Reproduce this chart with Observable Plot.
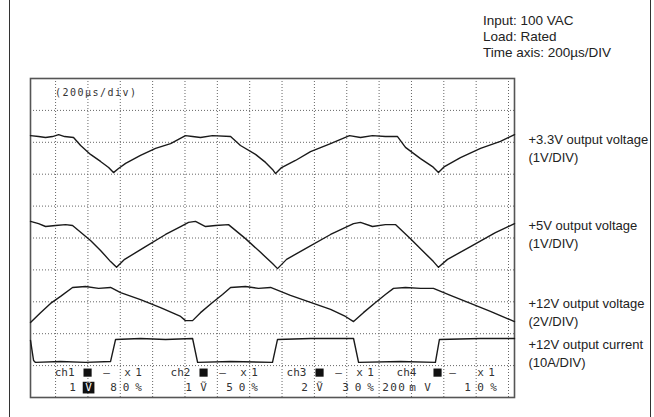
<!DOCTYPE html>
<html><head><meta charset="utf-8">
<script src="https://cdn.jsdelivr.net/npm/d3@7"></script>
<script src="https://cdn.jsdelivr.net/npm/@observablehq/plot@0.6"></script>
<style>
body{margin:0;background:#fff;}
#wrap{position:relative;width:654px;height:417px;overflow:hidden;font-family:"Liberation Sans",Arial,sans-serif;}
#wrap svg{position:absolute;left:0;top:0;}
#border{position:absolute;left:9px;top:-5px;width:640px;height:427px;border-left:1.5px solid #333;border-right:1.5px solid #333;pointer-events:none;}
#info{position:absolute;left:483px;top:13px;font-size:13.5px;line-height:16px;color:#222;}
</style></head><body>
<div id="wrap"><div id="info"></div><div id="border"></div></div>
<script>
// ---- data (time in µs, level in screen divisions) ----
const infoLines = ["Input: 100 VAC", "Load: Rated", "Time axis: 200µs/DIV"];
const traceLabels = ["+3.3V output voltage\n(1V/DIV)", "+5V output voltage\n(1V/DIV)", "+12V output voltage\n(2V/DIV)", "+12V output current\n(10A/DIV)"];
const traceLabelLevels = [7.84, 5.15, 2.70, 1.43];
const timebaseText = "(200µs/div)";
const gridTimes = [0,200,400,600,800,1000,1200,1400,1600,1800,2000,2200,2400,2600,2800];
const gridDivs = [1,2,3,4,5,6,7,8,9];

const v33 = [[-155,8.21],[-105,8.18],[-62,8.15],[-19,8.18],[19,8.24],[56,8.18],[111,8.15],[155,7.90],[216,7.62],[278,7.40],[328,7.21],[358,7.05],[389,7.18],[433,7.34],[525,7.59],[618,7.81],[711,7.96],[803,8.21],[847,8.18],[896,8.15],[970,8.21],[1082,8.18],[1143,7.90],[1236,7.62],[1298,7.37],[1341,7.15],[1360,7.02],[1397,7.21],[1483,7.43],[1576,7.71],[1700,7.96],[1817,8.21],[1885,8.15],[1959,8.21],[2039,8.18],[2114,8.18],[2163,7.84],[2256,7.49],[2330,7.24],[2367,7.05],[2404,7.24],[2503,7.52],[2627,7.81],[2750,8.03],[2837,8.24]];
const v5 = [[-155,5.52],[-105,5.45],[-62,5.36],[0,5.39],[62,5.42],[105,5.39],[216,4.92],[278,4.61],[340,4.26],[377,4.08],[427,4.33],[556,4.73],[680,5.11],[773,5.36],[822,5.49],[865,5.52],[927,5.36],[989,5.39],[1069,5.42],[1174,4.98],[1267,4.55],[1341,4.20],[1372,4.04],[1428,4.33],[1545,4.67],[1700,5.11],[1842,5.45],[1885,5.49],[1959,5.36],[2039,5.42],[2101,5.42],[2194,4.98],[2287,4.51],[2336,4.26],[2367,4.08],[2423,4.33],[2565,4.73],[2719,5.17],[2837,5.45]];
const v12 = [[-155,2.35],[-93,2.66],[-31,2.95],[31,3.17],[105,3.45],[185,3.48],[266,3.42],[340,3.45],[402,3.29],[525,3.07],[649,2.82],[773,2.54],[803,2.41],[847,2.41],[896,2.66],[970,2.98],[1032,3.23],[1082,3.45],[1174,3.48],[1254,3.42],[1329,3.45],[1452,3.20],[1576,2.98],[1700,2.76],[1792,2.54],[1842,2.38],[1903,2.66],[1978,2.98],[2039,3.23],[2089,3.42],[2163,3.45],[2256,3.42],[2336,3.42],[2441,3.20],[2565,2.95],[2688,2.70],[2837,2.38]];
const i12 = [[-155,1.79],[-136,1.16],[-124,1.10],[31,1.13],[185,1.10],[340,1.13],[371,1.82],[525,1.85],[680,1.82],[847,1.85],[878,1.10],[1082,1.13],[1341,1.10],[1372,1.82],[1576,1.85],[1842,1.85],[1873,1.10],[2132,1.13],[2348,1.10],[2373,1.82],[2627,1.85],[2837,1.85]];

const chNames = ["ch1","ch2","ch3","ch4"];
const chVolts = ["1","1","2","200m"];
const chPercent = ["80%","50%","30%","10%"];
const chProbe = ["x1","x1","x1","x1"];
const chStart = [0, 717, 1434, 2114];

// ---- layout ----
const W = 654, H = 417, mL = 30, mR = 140, mT = 78, mB = 20;
const xDomain = [-155, 2837];
const usPerPx = (xDomain[1] - xDomain[0]) / (W - mL - mR);
const row1 = 0.78, row2 = 0.31;
const mono = "DejaVu Sans Mono, monospace";

document.getElementById("info").innerHTML = infoLines.map(s => `<div>${s}</div>`).join("");

// readout glyphs (px offsets within each channel block)
const glyphs = [], squares = [], boxes = [];
function put(ch, off, y, s, fill = "#333") { glyphs.push({x: chStart[ch] + off * usPerPx, y, s, fill}); }
function spread(ch, off, y, str, step) { [...str].forEach((c, k) => put(ch, off + k * step, y, c)); }
for (let i = 0; i < 4; i++) {
  const four = i === 3;
  put(i, 9, row1, chNames[i]);
  squares.push({x: chStart[i] + (four ? 40 : 32) * usPerPx, y: row1});
  put(i, four ? 55 : 51, row1, "–");
  spread(i, four ? 83 : 72, row1, chProbe[i], 11);
  if (!four) {
    put(i, 17, row2, chVolts[i]);
    if (i === 0) { boxes.push({x: chStart[i] + 33 * usPerPx, y: row2}); put(i, 33, row2, "Ṽ", "#fff"); }
    else put(i, 32, row2, "Ṽ");
    spread(i, 58, row2, chPercent[i], 12.5);
  } else {
    spread(i, -12, row2, "200", 8);
    put(i, 15, row2, "m");
    put(i, 30, row2, "V");
    spread(i, 70, row2, chPercent[i], 13);
  }
}
const tbGlyphs = [...timebaseText].map((c, k) => ({x: (2.5 + k * 7.5) * usPerPx, y: 9.56, s: c}));

const traceStyle = {x: d => d[0], y: d => d[1], stroke: "#1a1a1a", strokeWidth: 1.4};
const svg = Plot.plot({
  width: W, height: H, marginLeft: mL, marginRight: mR, marginTop: mT, marginBottom: mB,
  x: {domain: xDomain, axis: null},
  y: {domain: [0, 10], axis: null},
  marks: [
    Plot.ruleX(gridTimes, {stroke: "#666", strokeDasharray: "1,2", strokeWidth: 1}),
    Plot.ruleY(gridDivs, {stroke: "#666", strokeDasharray: "1,2", strokeWidth: 1}),
    Plot.frame({stroke: "#555", strokeWidth: 1.6}),
    Plot.line(v33, traceStyle),
    Plot.line(v5, traceStyle),
    Plot.line(v12, traceStyle),
    Plot.line(i12, traceStyle),
    Plot.text(tbGlyphs, {x: "x", y: "y", text: "s", fontFamily: mono, fontSize: 10, fill: "#333"}),
    Plot.dot(squares, {x: "x", y: "y", symbol: "square", r: 4.6, fill: "#111", stroke: null}),
    Plot.dot(boxes, {x: "x", y: "y", symbol: "square", r: 6.6, fill: "#111", stroke: null}),
    Plot.text(glyphs, {x: "x", y: "y", text: "s", fill: "fill", fontFamily: mono, fontSize: 11}),
    Plot.text(traceLabels, {frameAnchor: "right", y: (d, i) => traceLabelLevels[i], text: d => d, dx: 14, textAnchor: "start", fontSize: 13, lineHeight: 1.4, fontFamily: "Liberation Sans, Arial, sans-serif", fill: "#222"})
  ]
});
document.getElementById("wrap").insertBefore(svg, document.getElementById("info"));
</script>
</body></html>
